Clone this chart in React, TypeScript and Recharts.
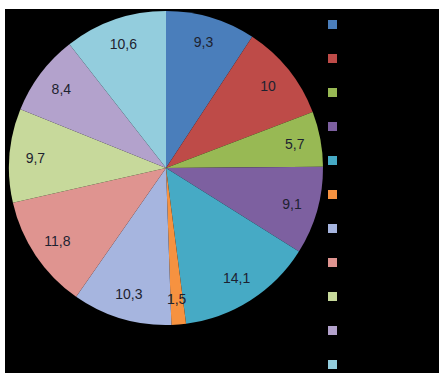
import React from 'react';
import { PieChart, Pie, Cell, Legend } from 'recharts';

// Share per category, clockwise from twelve o'clock
const values = [9.3, 10, 5.7, 9.1, 14.1, 1.5, 10.3, 11.8, 9.7, 8.4, 10.6];
const names = ['01', '02', '03', '04', '05', '06', '07', '08', '09', '10', '11'];
const colors = [
  '#4a7ebb',
  '#be4b48',
  '#98b954',
  '#7d60a0',
  '#46aac5',
  '#f69240',
  '#a6b5df',
  '#df9490',
  '#c7d99b',
  '#b3a2cc',
  '#93cddd',
];

const data = names.map((name, i) => ({ name, value: values[i] }));

const RADIAN = Math.PI / 180;
const LABEL_RADIUS = 131;

const fmt = (v: number) => String(v).replace('.', ',');

const renderLabel = (props: any) => {
  const { cx, cy, midAngle, value } = props;
  const x = cx + LABEL_RADIUS * Math.cos(-midAngle * RADIAN);
  const y = cy + LABEL_RADIUS * Math.sin(-midAngle * RADIAN);
  return (
    <text
      x={x}
      y={y}
      fill="#1d2230"
      fontSize={14}
      fontFamily="'Liberation Sans', Arial, sans-serif"
      textAnchor="middle"
      dominantBaseline="central"
    >
      {fmt(value)}
    </text>
  );
};

// Swatches only; the entry text is not shown
const renderLegend = (props: any) => {
  const { payload = [] } = props;
  return (
    <div>
      {payload.map((entry: any, i: number) => (
        <div
          key={i}
          style={{
            width: 9,
            height: 9,
            marginBottom: i === payload.length - 1 ? 0 : 25.1,
            background: entry.color,
          }}
        />
      ))}
    </div>
  );
};

export default function App() {
  return (
    <div style={{ width: 439, height: 373, background: '#fff', position: 'relative' }}>
      <style>{'body{margin:0}'}</style>
      <div style={{ position: 'absolute', left: 5, top: 9, background: '#000' }}>
        <PieChart width={434} height={364}>
          <Pie
            data={data}
            dataKey="value"
            nameKey="name"
            cx={156}
            cy={154}
            outerRadius={157}
            startAngle={90}
            endAngle={-270}
            stroke="none"
            label={renderLabel}
            labelLine={false}
            isAnimationActive={false}
          >
            {data.map((d, i) => (
              <Cell key={d.name} fill={colors[i]} />
            ))}
          </Pie>
          <Legend
            layout="vertical"
            itemSorter={null}
            content={renderLegend}
            wrapperStyle={{ position: 'absolute', left: 323, top: 10.5, width: 9 }}
          />
        </PieChart>
      </div>
    </div>
  );
}
